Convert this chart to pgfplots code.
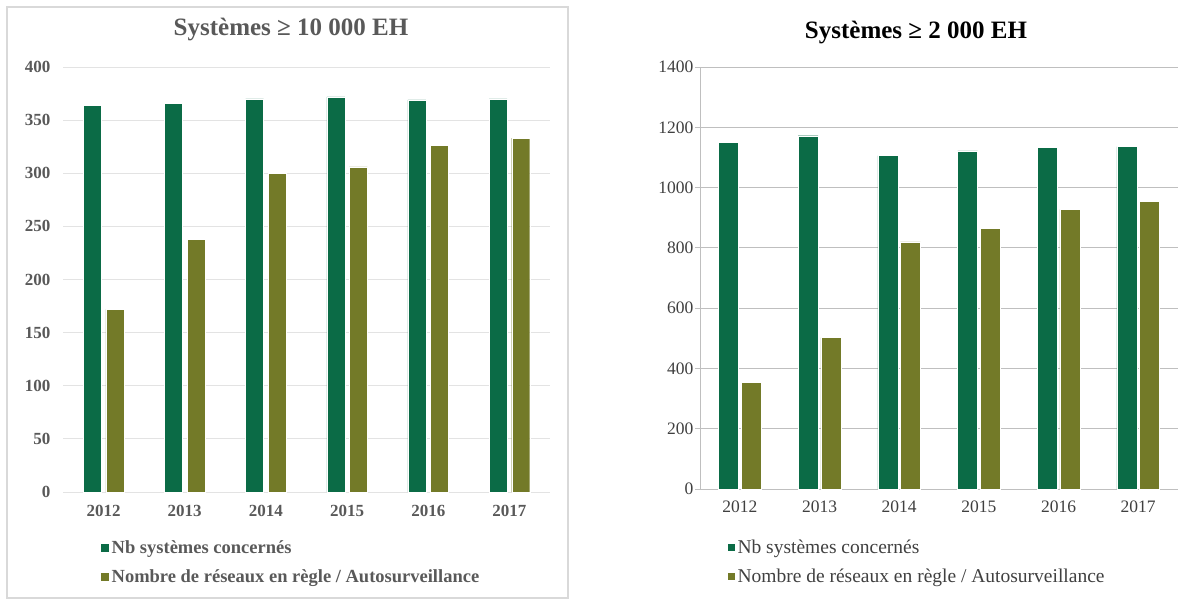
\documentclass[border=0pt]{standalone}
\usepackage{pgfplots}
\pgfplotsset{compat=1.18}
\usepackage{fontspec}
\setmainfont{Liberation Serif}

\definecolor{barA}{HTML}{0B6B46}
\definecolor{barB}{HTML}{737A28}
\definecolor{txtL}{HTML}{595959}
\definecolor{txtR}{HTML}{404040}
\definecolor{gridL}{HTML}{E3E3E3}
\definecolor{gridR}{HTML}{BFBFBF}
\definecolor{boxL}{HTML}{D9D9D9}

\newcommand{\tk}{\fontsize{17}{20}\selectfont}
\newcommand{\lgf}{\fontsize{18.5}{22}\selectfont}
\newcommand{\lgr}{\fontsize{19.5}{22}\selectfont}
\newcommand{\ttl}{\fontsize{25}{28}\selectfont}

\begin{document}
\begin{tikzpicture}
\path[use as bounding box] (0pt,0pt) rectangle (1178pt,-603pt);

% left panel frame and title
\draw[boxL, line width=1.3pt] (7pt,-7pt) rectangle (568pt,-598pt);
\node[txtL, font=\ttl\bfseries] at (291pt,-30pt) {Systèmes ≥ 10~000 EH};

\begin{axis}[
    at={(63pt,-492pt)}, anchor=south west,
    scale only axis, width=487pt, height=425pt,
    ybar, bar width=18pt,
    xmin=-0.5, xmax=5.5, ymin=0, ymax=400,
    xtick={0,...,5}, xticklabels={2012,2013,2014,2015,2016,2017},
    ytick={0,50,...,400},
    ymajorgrids, grid style={gridL, line width=0.9pt},
    axis line style={draw=none}, major tick length=0pt,
    /pgf/number format/assume math mode=true,
    ticklabel style={font=\tk\bfseries, text=txtL},
    yticklabel style={xshift=-9pt},
    xticklabel style={yshift=-10pt},
    legend image code/.code={\fill[#1] (0pt,-4.5pt) rectangle (9pt,4.5pt);},
    legend style={at={(0.07,-0.105)}, anchor=north west, draw=none, fill=none,
        font=\lgf\bfseries, text=txtL, row sep=10pt},
    legend cell align=left,
]
\addplot[fill=barA, draw=white, line width=0.4pt, bar shift=-11.3pt]
    coordinates {(0,364) (1,366) (2,370) (3,372) (4,369) (5,370)};
\addlegendentry{Nb systèmes concernés}
\addplot[fill=barB, draw=white, line width=0.4pt, bar shift=11.3pt]
    coordinates {(0,172) (1,238) (2,300) (3,306) (4,326) (5,333)};
\addlegendentry{Nombre de réseaux en règle / Autosurveillance}
\end{axis}

% right panel title
\node[black, font=\ttl\bfseries] at (916pt,-33pt) {Systèmes ≥ 2~000 EH};

\begin{axis}[
    at={(700pt,-489pt)}, anchor=south west,
    scale only axis, width=478pt, height=422pt,
    ybar, bar width=20pt,
    xmin=-0.5, xmax=5.5, ymin=0, ymax=1400,
    xtick={0,...,5}, xticklabels={2012,2013,2014,2015,2016,2017},
    minor xtick={-0.5,0.5,...,5.5},
    ytick={0,200,...,1400},
    axis x line*=bottom, axis y line*=left,
    axis line style={gridR, line width=0.9pt},
    ymajorgrids, grid style={gridR, line width=0.9pt},
    tick align=outside, major tick length=5pt, minor tick length=5pt,
    tick style={gridR, line width=0.9pt},
    xtick style={draw=none},
    minor x tick style={gridR, line width=0.9pt},
    /pgf/number format/assume math mode=true,
    /pgf/number format/1000 sep={},
    ticklabel style={font=\fontsize{17.5}{20}\selectfont, text=txtR},
    yticklabel style={xshift=2pt},
    xticklabel style={yshift=-3pt},
    legend image code/.code={\fill[#1] (0pt,-4pt) rectangle (8pt,4pt);},
    legend style={at={(0.05,-0.11)}, anchor=north west, draw=none, fill=none,
        font=\lgr, text=txtR, row sep=10pt},
    legend cell align=left,
]
\addplot[fill=barA, draw=white, line width=0.4pt, bar shift=-11.3pt]
    coordinates {(0,1149) (1,1172) (2,1106) (3,1122) (4,1133) (5,1136)};
\addlegendentry{Nb systèmes concernés}
\addplot[fill=barB, draw=white, line width=0.4pt, bar shift=11.3pt]
    coordinates {(0,355) (1,502) (2,820) (3,865) (4,928) (5,955)};
\addlegendentry{Nombre de réseaux en règle / Autosurveillance}
\end{axis}
\end{tikzpicture}
\end{document}
